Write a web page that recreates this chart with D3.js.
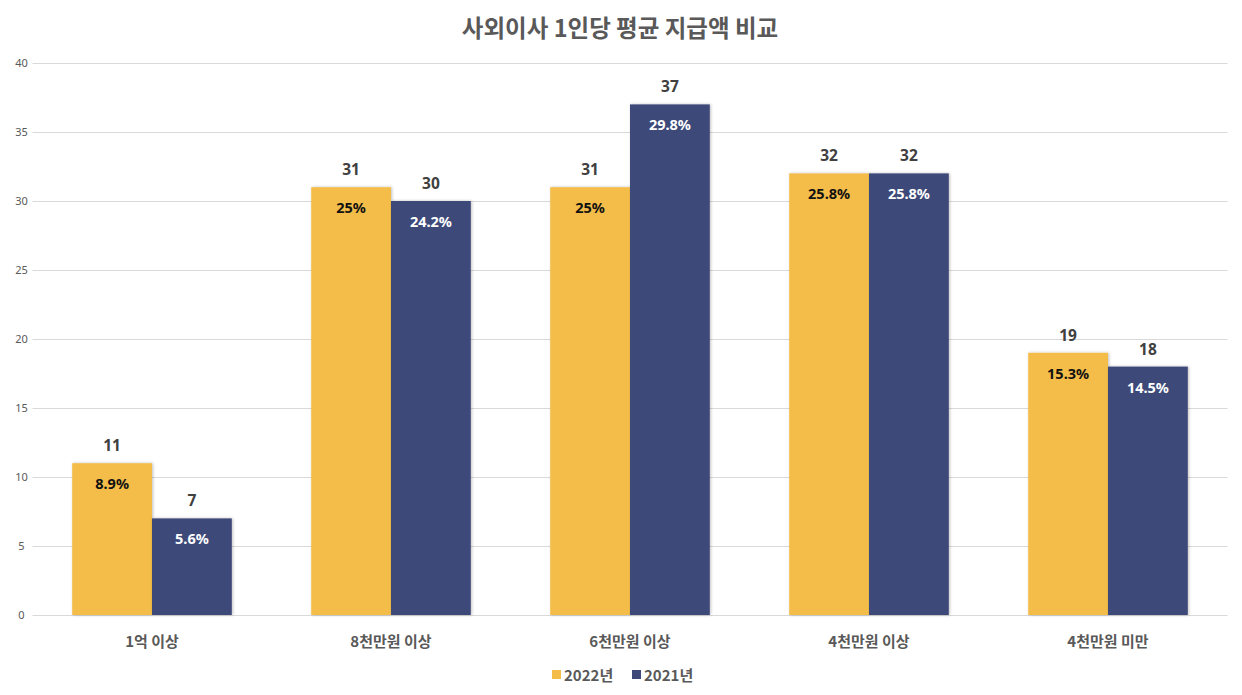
<!DOCTYPE html>
<html><head><meta charset="utf-8">
<script src="https://cdn.jsdelivr.net/npm/d3@7"></script>
<style>body{margin:0;background:#fff;font-family:"Noto Sans CJK KR","Noto Sans",sans-serif;}</style>
</head><body><svg id="c" width="1242" height="695"></svg>
<script>
const categories = ["1억 이상","8천만원 이상","6천만원 이상","4천만원 이상","4천만원 미만"];
const seriesNames = ["2022년","2021년"];
const values2022 = [11,31,31,32,19];
const values2021 = [7,30,37,32,18];
const pct2022 = ["8.9%","25%","25%","25.8%","15.3%"];
const pct2021 = ["5.6%","24.2%","29.8%","25.8%","14.5%"];
const yTicks = [0,5,10,15,20,25,30,35,40];
const colors = ["#F4BD4A","#3E4879"];
const pctColors = ["#111111","#ffffff"];

const svg = d3.select("#c");
const m = {l:32.5, r:1227.5, t:63, b:615};
const x0 = d3.scaleBand().domain(categories).range([m.l,m.r]).paddingInner(0).paddingOuter(0);
const x1 = d3.scaleBand().domain(seriesNames).range([0,x0.bandwidth()]).paddingInner(0).paddingOuter(0.4975);
const y = d3.scaleLinear().domain([0,40]).range([m.b,m.t]);

svg.append("text").attr("x",620).attr("y",37).attr("text-anchor","middle")
  .attr("font-size",23.5).attr("font-weight","bold").attr("fill","#595959")
  .text("사외이사 1인당 평균 지급액 비교");

const yAxis = d3.axisLeft(y).tickValues(yTicks).tickSize(-(m.r-m.l)).tickPadding(0);
const ga = svg.append("g").attr("transform",`translate(${m.l},0)`).call(yAxis);
ga.select(".domain").remove();
ga.selectAll(".tick line").attr("stroke","#d9d9d9").attr("stroke-width",1);
ga.selectAll(".tick text").attr("x",-11).attr("text-anchor","middle").attr("font-size",11)
  .attr("fill","#595959").attr("font-family","Noto Sans, sans-serif");

const defs = svg.append("defs");
const f = defs.append("filter").attr("id","sh").attr("x","-10%").attr("y","-10%").attr("width","130%").attr("height","130%");
f.append("feDropShadow").attr("dx",1).attr("dy",0).attr("stdDeviation",1.5).attr("flood-color","#000").attr("flood-opacity",0.25);

const data = categories.map((c,i)=>({c, vals:[
  {s:seriesNames[0], v:values2022[i], p:pct2022[i], k:0},
  {s:seriesNames[1], v:values2021[i], p:pct2021[i], k:1}]}));

const g = svg.selectAll("g.grp").data(data).join("g").attr("class","grp")
  .attr("transform",d=>`translate(${x0(d.c)},0)`);
g.selectAll("rect").data(d=>d.vals).join("rect")
  .attr("x",d=>x1(d.s)).attr("width",x1.bandwidth())
  .attr("y",d=>y(d.v)).attr("height",d=>y(0)-y(d.v))
  .attr("fill",d=>colors[d.k]).attr("filter","url(#sh)");
g.selectAll("text.val").data(d=>d.vals).join("text").attr("class","val")
  .attr("x",d=>x1(d.s)+x1.bandwidth()/2).attr("y",d=>y(d.v)-12)
  .attr("text-anchor","middle").attr("font-size",15.5).attr("font-weight","bold").attr("fill","#404040")
  .attr("font-family","Noto Sans, sans-serif").text(d=>d.v);
g.selectAll("text.pct").data(d=>d.vals).join("text").attr("class","pct")
  .attr("x",d=>x1(d.s)+x1.bandwidth()/2).attr("y",d=>y(d.v)+26)
  .attr("text-anchor","middle").attr("font-size",14.5).attr("font-weight","bold").attr("fill",d=>pctColors[d.k])
  .attr("font-family","Noto Sans, sans-serif").text(d=>d.p);

svg.selectAll("text.cat").data(categories).join("text").attr("class","cat")
  .attr("x",d=>x0(d)+x0.bandwidth()/2).attr("y",647).attr("text-anchor","middle")
  .attr("font-size",15).attr("font-weight","bold").attr("fill","#595959").text(d=>d);

const leg = svg.append("g");
const legX = [552, 632];
seriesNames.forEach((s,i)=>{
  leg.append("rect").attr("x",legX[i]).attr("y",670).attr("width",9).attr("height",9).attr("fill",colors[i]);
  leg.append("text").attr("x",legX[i]+12).attr("y",681).attr("font-size",15).attr("font-weight","bold")
    .attr("fill","#595959").text(s);
});
</script></body></html>
